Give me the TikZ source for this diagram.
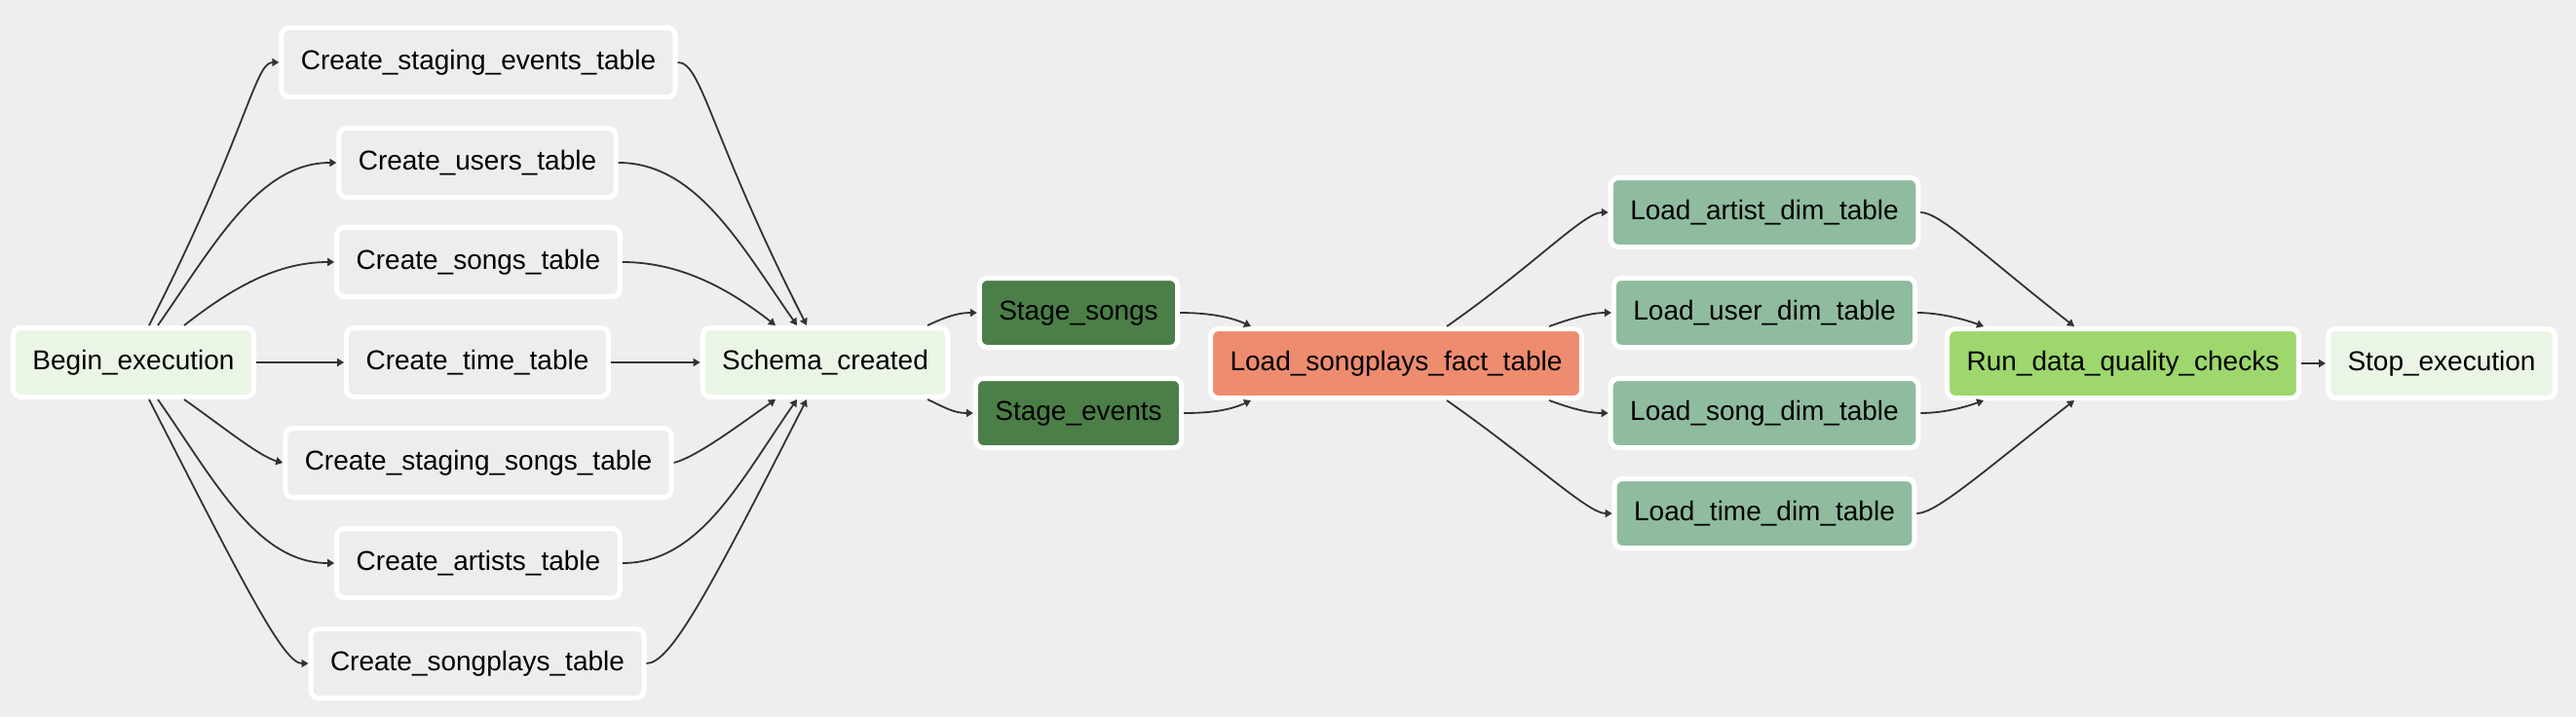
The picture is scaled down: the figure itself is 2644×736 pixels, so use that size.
\documentclass[tikz,border=0pt]{standalone}
\usepackage{fontspec}
\setmainfont{Liberation Sans}
\usetikzlibrary{arrows.meta}
\definecolor{bgc}{HTML}{EEEEEE}
\definecolor{dummyc}{HTML}{EBF5E6}
\definecolor{createc}{HTML}{EDEDED}
\definecolor{stagec}{HTML}{4B7F47}
\definecolor{factc}{HTML}{EE8C6F}
\definecolor{dimc}{HTML}{8FBC9F}
\definecolor{checkc}{HTML}{9DD76D}
\definecolor{edgec}{HTML}{333333}
\begin{document}
\begin{tikzpicture}[x=1pt,y=1pt,
  task/.style={draw=white, line width=5pt, rounded corners=8pt, minimum height=71pt,
    inner xsep=20pt, text height=20pt, text depth=6pt, font=\fontsize{28}{34}\selectfont},
  edge/.style={draw=edgec, line width=1.8pt, -{Triangle[length=7pt,width=8pt]}}]
\fill[bgc] (0,0) rectangle (2644,-736);
%\draw[help lines,step=100] (0,0) grid (2644,-736);
\node[task, fill=dummyc] (begin) at (137,-372) {Begin\_execution};
\node[task, fill=createc] (cse) at (491,-64) {Create\_staging\_events\_table};
\node[task, fill=createc] (cu) at (490,-167) {Create\_users\_table};
\node[task, fill=createc] (cs) at (491,-269) {Create\_songs\_table};
\node[task, fill=createc] (ct) at (490,-372) {Create\_time\_table};
\node[task, fill=createc] (css) at (491,-475) {Create\_staging\_songs\_table};
\node[task, fill=createc] (ca) at (491,-578) {Create\_artists\_table};
\node[task, fill=createc] (csp) at (490,-681) {Create\_songplays\_table};
\node[task, fill=dummyc] (schema) at (847,-372) {Schema\_created};
\node[task, fill=stagec] (sts) at (1107,-321) {Stage\_songs};
\node[task, fill=stagec] (ste) at (1107,-424) {Stage\_events};
\node[task, fill=factc] (fact) at (1433,-373) {Load\_songplays\_fact\_table};
\node[task, fill=dimc] (lart) at (1811,-218) {Load\_artist\_dim\_table};
\node[task, fill=dimc] (lusr) at (1811,-321) {Load\_user\_dim\_table};
\node[task, fill=dimc] (lsng) at (1811,-424) {Load\_song\_dim\_table};
\node[task, fill=dimc] (ltim) at (1811,-527) {Load\_time\_dim\_table};
\node[task, fill=checkc] (dq) at (2179,-373) {Run\_data\_quality\_checks};
\node[task, fill=dummyc] (stop) at (2506,-373) {Stop\_execution};
% begin -> create tables
\draw[edge] ([xshift=16pt]begin.north) .. controls +(63:220) and +(180:25) .. (cse.west);
\draw[edge] ([xshift=25pt]begin.north) .. controls +(55:100) and +(180:80) .. (cu.west);
\draw[edge] ([xshift=52pt]begin.north) .. controls +(38:60) and +(180:60) .. (cs.west);
\draw[edge] (begin.east) -- (ct.west);
\draw[edge] ([xshift=52pt]begin.south) .. controls +(-35:45) and +(165:25) .. (css.west);
\draw[edge] ([xshift=25pt]begin.south) .. controls +(-55:100) and +(180:80) .. (ca.west);
\draw[edge] ([xshift=16pt]begin.south) .. controls +(-63:220) and +(180:25) .. (csp.west);
% create tables -> schema
\draw[edge] (cse.east) .. controls +(0:25) and +(117:220) .. ([xshift=-19pt]schema.north);
\draw[edge] (cu.east) .. controls +(0:80) and +(125:100) .. ([xshift=-29pt]schema.north);
\draw[edge] (cs.east) .. controls +(0:60) and +(142:60) .. ([xshift=-51pt]schema.north);
\draw[edge] (ct.east) -- (schema.west);
\draw[edge] (css.east) .. controls +(15:25) and +(-145:45) .. ([xshift=-51pt]schema.south);
\draw[edge] (ca.east) .. controls +(0:80) and +(-125:100) .. ([xshift=-29pt]schema.south);
\draw[edge] (csp.east) .. controls +(0:25) and +(-117:220) .. ([xshift=-19pt]schema.south);
% staging
\draw[edge] ([xshift=105pt]schema.north) .. controls +(25:20) and +(180:20) .. (sts.west);
\draw[edge] ([xshift=105pt]schema.south) .. controls +(-25:20) and +(180:20) .. (ste.west);
\draw[edge] (sts.east) .. controls +(0:25) and +(155:25) .. ([xshift=-149pt]fact.north);
\draw[edge] (ste.east) .. controls +(0:25) and +(-155:25) .. ([xshift=-149pt]fact.south);
% dimensions
\draw[edge] ([xshift=52pt]fact.north) .. controls +(35:110) and +(180:25) .. (lart.west);
\draw[edge] ([xshift=157pt]fact.north) .. controls +(20:25) and +(180:20) .. (lusr.west);
\draw[edge] ([xshift=157pt]fact.south) .. controls +(-20:25) and +(180:20) .. (lsng.west);
\draw[edge] ([xshift=52pt]fact.south) .. controls +(-35:110) and +(180:25) .. (ltim.west);
% checks
\draw[edge] (lart.east) .. controls +(0:20) and +(142:120) .. ([xshift=-50pt]dq.north);
\draw[edge] (lusr.east) .. controls +(0:20) and +(160:25) .. ([xshift=-143pt]dq.north);
\draw[edge] (lsng.east) .. controls +(0:20) and +(-160:25) .. ([xshift=-143pt]dq.south);
\draw[edge] (ltim.east) .. controls +(0:20) and +(-142:120) .. ([xshift=-50pt]dq.south);
\draw[edge] (dq.east) -- (stop.west);
\end{tikzpicture}
\end{document}
